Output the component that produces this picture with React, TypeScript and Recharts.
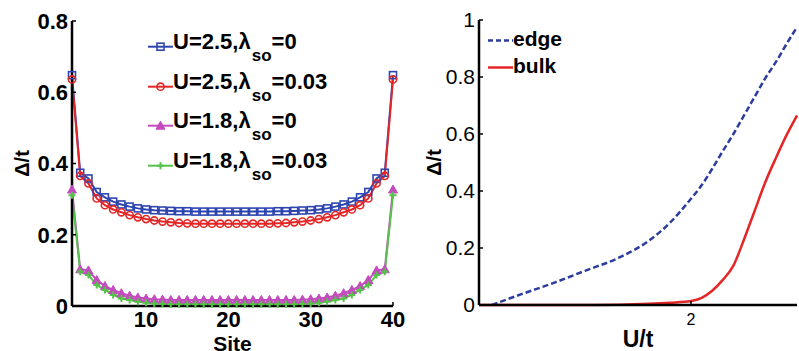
import React from 'react';
import { LineChart, Line, XAxis, YAxis, Legend, Label } from 'recharts';

const FONT = 'Arial, "Liberation Sans", Helvetica, sans-serif';

// left panel: gap profile along the ribbon
const sites = [
  1, 2, 3, 4, 5, 6, 7, 8, 9, 10, 11, 12, 13, 14, 15, 16, 17, 18, 19, 20,
  21, 22, 23, 24, 25, 26, 27, 28, 29, 30, 31, 32, 33, 34, 35, 36, 37, 38, 39, 40,
];
const gapU25 = [
  0.648, 0.374, 0.358, 0.32, 0.305, 0.293, 0.285, 0.279, 0.274, 0.271, 0.269, 0.268, 0.267, 0.266, 0.266, 0.265, 0.265, 0.265, 0.265, 0.265,
  0.265, 0.265, 0.265, 0.265, 0.265, 0.266, 0.266, 0.267, 0.268, 0.269, 0.271, 0.274, 0.279, 0.285, 0.293, 0.305, 0.32, 0.358, 0.374, 0.648,
];
const gapU25so = [
  0.636, 0.365, 0.344, 0.302, 0.283, 0.271, 0.263, 0.255, 0.249, 0.244, 0.24, 0.237, 0.235, 0.233, 0.232, 0.231, 0.231, 0.231, 0.231, 0.231,
  0.231, 0.231, 0.231, 0.231, 0.231, 0.232, 0.233, 0.235, 0.237, 0.24, 0.244, 0.249, 0.255, 0.263, 0.271, 0.283, 0.302, 0.344, 0.365, 0.636,
];
const gapU18 = [
  0.327, 0.103, 0.1, 0.073, 0.056, 0.045, 0.036, 0.029, 0.024, 0.021, 0.019, 0.018, 0.017, 0.017, 0.017, 0.017, 0.017, 0.017, 0.017, 0.017,
  0.017, 0.017, 0.017, 0.017, 0.017, 0.017, 0.017, 0.017, 0.018, 0.019, 0.021, 0.024, 0.029, 0.036, 0.045, 0.056, 0.073, 0.1, 0.103, 0.327,
];
const gapU18so = [
  0.311, 0.096, 0.087, 0.059, 0.045, 0.031, 0.021, 0.017, 0.012, 0.009, 0.007, 0.006, 0.005, 0.005, 0.005, 0.005, 0.005, 0.005, 0.005, 0.005,
  0.005, 0.005, 0.005, 0.005, 0.005, 0.005, 0.005, 0.005, 0.006, 0.007, 0.009, 0.012, 0.017, 0.021, 0.031, 0.045, 0.059, 0.087, 0.096, 0.311,
];
const siteTicks = [10, 20, 30, 40];
const leftYTicks = [0, 0.2, 0.4, 0.6, 0.8];

// right panel: gap vs U/t
const uValues = [1.0, 1.06, 1.2, 1.35, 1.5, 1.66, 1.8, 1.9, 2.0, 2.05, 2.1, 2.15, 2.2, 2.25, 2.3, 2.35, 2.4, 2.45, 2.5];
const edgeGap = [null, 0, 0.038, 0.077, 0.12, 0.166, 0.225, 0.288, 0.373, 0.42, 0.478, 0.54, 0.6, 0.665, 0.73, 0.795, 0.852, 0.915, 0.975];
const bulkGap = [0, 0, 0, 0, 0, 0.001, 0.004, 0.008, 0.014, 0.025, 0.05, 0.088, 0.138, 0.23, 0.33, 0.43, 0.515, 0.595, 0.665];
const uTicks = [2];
const rightYTicks = [0, 0.2, 0.4, 0.6, 0.8, 1];

const siteRows = sites.map((s, i) => ({
  site: s,
  a: gapU25[i],
  b: gapU25so[i],
  c: gapU18[i],
  d: gapU18so[i],
}));
const uRows = uValues.map((u, i) => ({ u, edge: edgeGap[i], bulk: bulkGap[i] }));

const BLUE = '#2e45b0';
const RED = '#e42626';
const MAGENTA = '#c34bbd';
const GREEN = '#55c24a';
const EDGE_BLUE = '#2d3d9f';

type Marker = 'square' | 'circle' | 'triangle' | 'plus';

function drawMarker(kind: Marker, cx: number, cy: number, color: string, key?: any) {
  if (kind === 'square')
    return <rect key={key} x={cx - 3.5} y={cy - 3.5} width={7} height={7} fill="none" stroke={color} strokeWidth={1.6} />;
  if (kind === 'circle')
    return <circle key={key} cx={cx} cy={cy} r={3.6} fill="none" stroke={color} strokeWidth={1.6} />;
  if (kind === 'triangle')
    return <path key={key} d={`M${cx},${cy - 4.5}L${cx + 4.5},${cy + 3.5}L${cx - 4.5},${cy + 3.5}Z`} fill={color} stroke={color} strokeWidth={1} />;
  return (
    <path key={key} d={`M${cx - 3.5},${cy}H${cx + 3.5}M${cx},${cy - 3.5}V${cy + 3.5}`} stroke={color} strokeWidth={2} />
  );
}

const leftSeries: { key: string; u: string; lam: string; color: string; marker: Marker }[] = [
  { key: 'a', u: '2.5', lam: '0', color: BLUE, marker: 'square' },
  { key: 'b', u: '2.5', lam: '0.03', color: RED, marker: 'circle' },
  { key: 'c', u: '1.8', lam: '0', color: MAGENTA, marker: 'triangle' },
  { key: 'd', u: '1.8', lam: '0.03', color: GREEN, marker: 'plus' },
];

const LeftLegend = () => (
  <div style={{ fontFamily: FONT, fontWeight: 'bold', color: '#000' }}>
    {leftSeries.map((s) => (
      <div key={s.key} style={{ position: 'relative', height: 39.7, width: 260 }}>
        <svg width={25} height={40} style={{ position: 'absolute', left: 0, top: 0 }}>
          <line x1={0} y1={23.7} x2={25} y2={23.7} stroke={s.color} strokeWidth={2} />
          {drawMarker(s.marker, 12.5, 23.7, s.color)}
        </svg>
        <span style={{ position: 'absolute', left: 25, top: 8, fontSize: 22, lineHeight: '22px', whiteSpace: 'nowrap' }}>
          U={s.u},λ
          <span style={{ fontSize: 17, position: 'relative', top: 12, marginLeft: 1 }}>so</span>={s.lam}
        </span>
      </div>
    ))}
  </div>
);

const RightLegend = () => (
  <div style={{ fontFamily: FONT, fontWeight: 'bold', color: '#000' }}>
    {[
      { name: 'edge', color: EDGE_BLUE, dash: '5 3' },
      { name: 'bulk', color: RED, dash: undefined },
    ].map((s) => (
      <div key={s.name} style={{ position: 'relative', height: 27, width: 90 }}>
        <svg width={25} height={27} style={{ position: 'absolute', left: 0, top: 0 }}>
          <line x1={0} y1={12.5} x2={25} y2={12.5} stroke={s.color} strokeWidth={2.5} strokeDasharray={s.dash} />
        </svg>
        <span style={{ position: 'absolute', left: 25, top: 0, fontSize: 21, lineHeight: '21px' }}>{s.name}</span>
      </div>
    ))}
  </div>
);

const axisLine = { stroke: '#000', strokeWidth: 2.5 };
const tickLine = { stroke: '#000', strokeWidth: 1.5 };

export default function App() {
  return (
    <div
      style={{
        position: 'absolute',
        left: 0,
        top: 0,
        width: 799,
        height: 351,
        overflow: 'hidden',
        background: '#fff',
      }}
    >
      <div style={{ position: 'absolute', left: 0, top: 0 }}>
        <LineChart width={420} height={380} data={siteRows} margin={{ top: 21, right: 27, left: 12, bottom: 24 }}>
          <XAxis
            dataKey="site"
            type="number"
            domain={[1, 40]}
            ticks={siteTicks}
            height={50}
            axisLine={axisLine}
            tickLine={tickLine}
            tickSize={-4}
            tickMargin={9}
            tick={{ fontFamily: FONT, fontSize: 22, fontWeight: 'bold', fill: '#000' }}
          >
            <Label value="Site" position="insideBottom" offset={5} fill="#000" fontSize={21} fontWeight="bold" fontFamily={FONT} />
          </XAxis>
          <XAxis
            xAxisId="top"
            orientation="top"
            dataKey="site"
            type="number"
            domain={[1, 40]}
            ticks={siteTicks}
            height={0}
            axisLine={axisLine}
            tickLine={tickLine}
            tickSize={-4}
            tick={false}
          />
          <YAxis
            type="number"
            domain={[0, 0.8]}
            ticks={leftYTicks}
            width={60}
            axisLine={axisLine}
            tickLine={tickLine}
            tickSize={-4}
            tickMargin={8}
            tickFormatter={(v: number) => String(v)}
            tick={{ fontFamily: FONT, fontSize: 22, fontWeight: 'bold', fill: '#000' }}
          >
            <Label
              value="Δ/t"
              angle={-90}
              position="insideLeft"
              offset={10}
              fill="#000"
              fontSize={20}
              fontWeight="bold"
              fontFamily={FONT}
              style={{ textAnchor: 'middle' }}
            />
          </YAxis>
          <YAxis
            yAxisId="right"
            orientation="right"
            type="number"
            domain={[0, 0.8]}
            ticks={leftYTicks}
            width={0}
            axisLine={axisLine}
            tickLine={tickLine}
            tickSize={-4}
            tick={false}
          />
          {leftSeries.map((s) => (
            <Line
              key={s.key}
              dataKey={s.key}
              stroke={s.color}
              strokeWidth={2}
              isAnimationActive={false}
              dot={(p: any) => drawMarker(s.marker, p.cx, p.cy, s.color, `${s.key}-${p.index}`)}
              activeDot={false}
            />
          ))}
          <Legend
            layout="horizontal"
            align="center"
            verticalAlign="middle"
            content={LeftLegend}
            wrapperStyle={{ left: 148, top: 23, width: 260 }}
          />
        </LineChart>
      </div>
      <div style={{ position: 'absolute', left: 420, top: 0 }}>
        <LineChart width={379} height={380} data={uRows} margin={{ top: 20, right: 2, left: 9, bottom: 30 }}>
          <XAxis
            dataKey="u"
            type="number"
            domain={[1, 2.5]}
            ticks={uTicks}
            height={45}
            axisLine={axisLine}
            tickLine={tickLine}
            tickSize={-4}
            tickMargin={13}
            tick={{ fontFamily: FONT, fontSize: 16, fill: '#000' }}
          >
            <Label value="U/t" position="insideBottom" offset={3} fill="#000" fontSize={23} fontWeight="bold" fontFamily={FONT} />
          </XAxis>
          <XAxis
            xAxisId="top"
            orientation="top"
            dataKey="u"
            type="number"
            domain={[1, 2.5]}
            ticks={uTicks}
            height={0}
            axisLine={axisLine}
            tickLine={tickLine}
            tickSize={-4}
            tick={false}
          />
          <YAxis
            type="number"
            domain={[0, 1]}
            ticks={rightYTicks}
            width={50}
            axisLine={axisLine}
            tickLine={tickLine}
            tickSize={-4}
            tickMargin={8}
            tickFormatter={(v: number) => String(v)}
            tick={{ fontFamily: FONT, fontSize: 21, fill: '#000' }}
          >
            <Label
              value="Δ/t"
              angle={-90}
              position="insideLeft"
              offset={5}
              fill="#000"
              fontSize={20}
              fontWeight="bold"
              fontFamily={FONT}
              style={{ textAnchor: 'middle' }}
            />
          </YAxis>
          <YAxis
            yAxisId="right"
            orientation="right"
            type="number"
            domain={[0, 1]}
            ticks={rightYTicks}
            width={0}
            axisLine={axisLine}
            tickLine={tickLine}
            tickSize={-4}
            tick={false}
          />
          <Line
            type="monotone"
            dataKey="bulk"
            stroke={RED}
            strokeWidth={2.5}
            dot={false}
            activeDot={false}
            isAnimationActive={false}
          />
          <Line
            type="monotone"
            dataKey="edge"
            stroke={EDGE_BLUE}
            strokeWidth={2.5}
            strokeDasharray="6 3"
            dot={false}
            activeDot={false}
            isAnimationActive={false}
          />
          <Legend
            layout="horizontal"
            align="center"
            verticalAlign="middle"
            content={RightLegend}
            wrapperStyle={{ left: 68, top: 28, width: 90 }}
          />
        </LineChart>
      </div>
    </div>
  );
}
